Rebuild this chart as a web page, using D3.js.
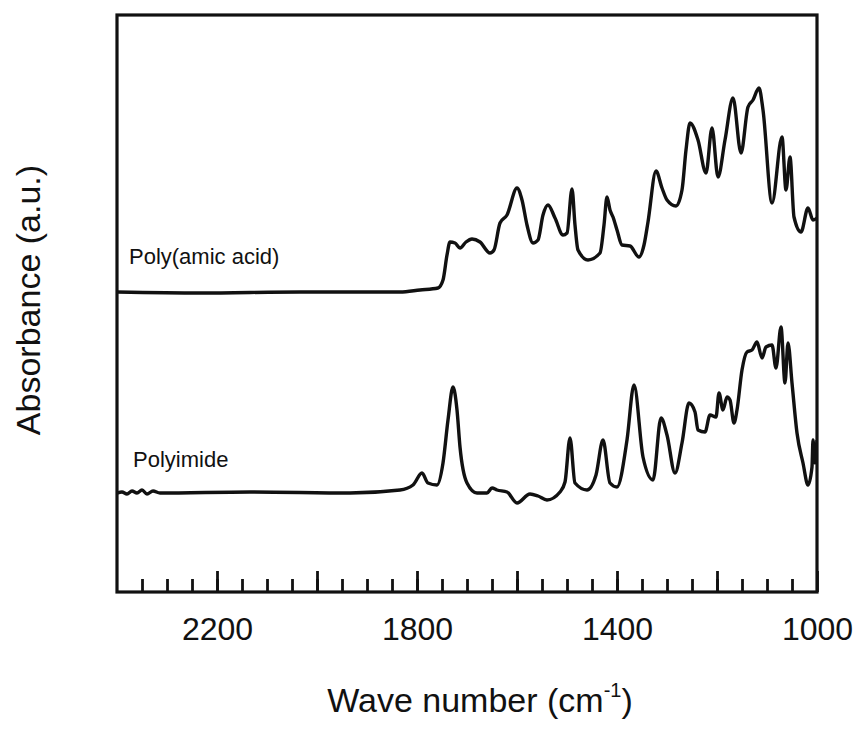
<!DOCTYPE html>
<html>
<head>
<meta charset="utf-8">
<script src="https://cdn.jsdelivr.net/npm/d3@7"></script>
<style>
  html, body { margin: 0; padding: 0; background: #fff; }
  svg { display: block; }
  text { font-family: "Liberation Sans", Arial, sans-serif; fill: #111; }
</style>
</head>
<body>
<svg id="chart" width="858" height="732"></svg>
<script>
// FTIR spectra: wavenumber (cm^-1) and absorbance (a.u., offset per trace)
const paaWave = [2400, 2234, 2034, 1834, 1794, 1758, 1748, 1740, 1734, 1724, 1714, 1702, 1690, 1674, 1654, 1646,
  1634, 1620, 1600, 1590, 1580, 1568, 1558, 1548, 1538, 1524, 1508, 1500, 1490, 1484, 1478, 1458, 1434, 1426,
  1420, 1414, 1408, 1400, 1390, 1374, 1356, 1346, 1338, 1322, 1310, 1300, 1282, 1270, 1262, 1254, 1238, 1222,
  1210, 1198, 1184, 1168, 1152, 1138, 1128, 1116, 1108, 1090, 1070, 1062, 1054, 1046, 1032, 1018, 1008, 1000];
const paaAbs = [3.00, 2.99, 3.00, 3.00, 3.02, 3.04, 3.12, 3.37, 3.50, 3.49, 3.44, 3.50, 3.53, 3.50, 3.39, 3.42,
  3.69, 3.77, 4.04, 3.92, 3.67, 3.49, 3.52, 3.77, 3.87, 3.74, 3.57, 3.59, 4.03, 3.67, 3.42, 3.32, 3.39, 3.67,
  3.95, 3.82, 3.75, 3.62, 3.47, 3.46, 3.35, 3.47, 3.70, 4.21, 4.04, 3.92, 3.86, 4.02, 4.42, 4.69, 4.52, 4.19,
  4.64, 4.15, 4.52, 4.94, 4.39, 4.85, 4.92, 5.04, 4.82, 3.89, 4.55, 4.02, 4.35, 3.75, 3.60, 3.84, 3.72, 3.74];

const piWave = [2400, 2390, 2380, 2370, 2360, 2350, 2340, 2328, 2314, 2134, 1934, 1834, 1808, 1790, 1778, 1760,
  1748, 1738, 1728, 1720, 1714, 1700, 1680, 1660, 1650, 1640, 1620, 1600, 1574, 1558, 1540, 1514, 1504, 1494,
  1484, 1460, 1442, 1428, 1414, 1400, 1380, 1366, 1348, 1328, 1312, 1300, 1284, 1270, 1256, 1244, 1238, 1224,
  1214, 1202, 1196, 1188, 1180, 1174, 1166, 1160, 1150, 1140, 1130, 1120, 1110, 1102, 1090, 1082, 1072, 1064,
  1058, 1050, 1040, 1028, 1018, 1010, 1008, 1004, 1000];
const piAbs = [0.99, 1.00, 0.98, 1.01, 0.99, 1.02, 0.98, 1.01, 0.99, 1.00, 0.99, 1.02, 1.07, 1.19, 1.09, 1.07,
  1.29, 1.72, 2.05, 1.82, 1.45, 1.09, 0.99, 0.99, 1.04, 1.02, 1.00, 0.89, 0.98, 0.96, 0.92, 1.00, 1.10, 1.54,
  1.09, 1.02, 1.17, 1.52, 1.09, 1.05, 1.52, 2.07, 1.35, 1.12, 1.74, 1.57, 1.19, 1.49, 1.89, 1.80, 1.62, 1.60,
  1.77, 1.75, 1.99, 1.82, 1.95, 1.92, 1.69, 1.82, 2.22, 2.40, 2.42, 2.50, 2.34, 2.45, 2.47, 2.24, 2.65, 2.09,
  2.49, 2.09, 1.59, 1.29, 1.07, 1.25, 1.52, 1.29, 1.52];

const majorTicks = [2200, 1800, 1400, 1000];
const traceLabels = ["Poly(amic acid)", "Polyimide"];

const svg = d3.select("#chart");
const frame = { left: 117, top: 15, right: 817, bottom: 592 };

const x = d3.scaleLinear().domain([2400, 1000]).range([frame.left, frame.right]);
const y = d3.scaleLinear().domain([0, 5.77]).range([frame.bottom, frame.top]);

svg.append("defs").append("clipPath").attr("id", "plotClip")
  .append("rect")
  .attr("x", frame.left).attr("y", frame.top)
  .attr("width", frame.right - frame.left).attr("height", frame.bottom - frame.top);

// Minor ticks every 50 cm^-1, drawn inward
const minorAxis = d3.axisBottom(x)
  .tickValues(d3.range(2350, 1000, -50))
  .tickSize(-13).tickFormat("");
svg.append("g").attr("transform", `translate(0,${frame.bottom})`).call(minorAxis)
  .call(g => g.select(".domain").remove())
  .call(g => g.selectAll("line").attr("stroke", "#111").attr("stroke-width", 2.8));

// Major ticks every 200 cm^-1
const majorAxis = d3.axisBottom(x)
  .tickValues(d3.range(2200, 999, -200))
  .tickSize(-21).tickPadding(25)
  .tickFormat(d => majorTicks.includes(d) ? d : "");
svg.append("g").attr("transform", `translate(0,${frame.bottom})`).call(majorAxis)
  .call(g => g.select(".domain").remove())
  .call(g => g.selectAll("line").attr("stroke", "#111").attr("stroke-width", 2.8))
  .call(g => g.selectAll("text")
    .attr("font-family", "'Liberation Sans', Arial, sans-serif")
    .attr("font-size", 32).attr("fill", "#111"));

// Spectra
const line = d3.line()
  .x(d => x(d[0])).y(d => y(d[1]))
  .curve(d3.curveMonotoneX);

const series = [
  d3.zip(paaWave, paaAbs),
  d3.zip(piWave, piAbs)
];

svg.append("g").attr("clip-path", "url(#plotClip)")
  .selectAll("path").data(series).join("path")
  .attr("d", line)
  .attr("fill", "none")
  .attr("stroke", "#111")
  .attr("stroke-width", 3.4)
  .attr("stroke-linejoin", "round");

// Frame
svg.append("rect")
  .attr("x", frame.left).attr("y", frame.top)
  .attr("width", frame.right - frame.left).attr("height", frame.bottom - frame.top)
  .attr("fill", "none").attr("stroke", "#111").attr("stroke-width", 3.2);

// Trace labels
svg.append("text").attr("x", 129).attr("y", 264).attr("font-size", 22).text(traceLabels[0]);
svg.append("text").attr("x", 133).attr("y", 467).attr("font-size", 22).text(traceLabels[1]);

// Axis titles
const xt = svg.append("text")
  .attr("x", 480).attr("y", 712)
  .attr("text-anchor", "middle").attr("font-size", 34);
xt.append("tspan").text("Wave number (cm");
xt.append("tspan").attr("dy", -15).attr("font-size", 20).text("-1");
xt.append("tspan").attr("dy", 15).text(")");

svg.append("text")
  .attr("transform", "translate(40,300) rotate(-90)")
  .attr("text-anchor", "middle").attr("font-size", 34)
  .text("Absorbance (a.u.)");
</script>
</body>
</html>
